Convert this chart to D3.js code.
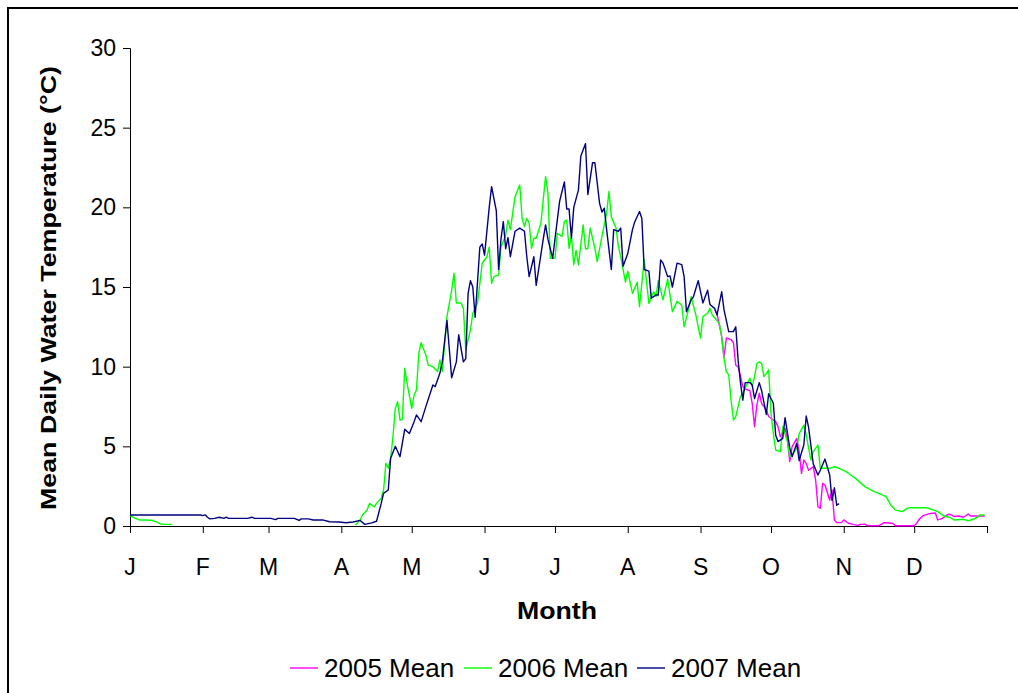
<!DOCTYPE html>
<html>
<head>
<meta charset="utf-8">
<script src="https://cdn.jsdelivr.net/npm/d3@7"></script>
<style>
  html, body { margin: 0; padding: 0; background: #fff; }
  svg { display: block; font-family: Arial, "Liberation Sans", sans-serif; }
</style>
</head>
<body>
<svg id="chart" width="1018" height="693"></svg>
<script>
// ---- Data (day of year, mean daily water temperature °C) ----
const monthLabels = ["J","F","M","A","M","J","J","A","S","O","N","D"];
const monthStarts = [0,31,59,90,120,151,181,212,243,273,304,334,365];
const yTicks = [0,5,10,15,20,25,30];
const seriesNames = ["2005 Mean","2006 Mean","2007 Mean"];
const seriesColors = ["#FF00FF","#00FF00","#000080"];

const days2005 = [249,250,252,253,254,256,257,258,259,260,
  261,262,264,265,266,267,268,269,271,272,
  274,275,276,277,279,280,281,282,284,285,
  286,287,288,289,291,292,293,294,295,296,
  298,299,300,301,303,304,306,308,310,311,
  313,314,319,321,322,325,326,334,335,336,
  338,341,343,344,346,348,349,351,353,355,
  357,358,361,364];
const temp2005 = [13.56,13.35,11.9,10.6,11.8,11.7,11.5,10.1,10.0,9.4,
  8.75,8.6,8.5,7.7,6.24,7.6,8.33,7.7,7.28,6.87,
  6.65,6.55,6.24,5.6,6.13,5.4,4.04,4.98,5.5,4.67,
  3.3,4.14,3.93,3.5,3.72,2.9,1.21,1.11,2.68,2.57,
  1.63,2.26,0.38,0.21,0.21,0.38,0.17,0.1,0.04,0.1,
  0.12,0.02,0.02,0.2,0.2,0.16,0.02,0.02,0.16,0.4,
  0.67,0.79,0.82,0.38,0.48,0.69,0.75,0.6,0.63,0.55,
  0.75,0.63,0.63,0.63];

const days2006 = [0,2,4,6,9,11,13,15,18,50,
  96,98,99,101,102,104,105,107,108,109,
  110,111,112,113,114,115,116,117,118,120,
  121,122,123,124,126,127,129,131,132,133,
  135,137,138,139,141,142,143,145,146,148,
  149,150,152,153,154,155,157,158,160,161,
  162,164,166,167,168,169,170,171,172,173,
  175,177,178,179,181,182,184,185,186,187,
  188,189,190,191,193,194,195,196,198,199,
  201,203,204,205,207,208,209,211,212,214,
  216,217,219,221,223,224,225,227,229,231,
  233,235,236,238,239,241,242,243,244,246,
  247,248,250,251,252,253,254,255,256,257,
  258,260,261,263,264,265,266,267,268,269,
  270,271,272,273,274,275,277,278,280,281,
  283,284,285,287,288,290,291,293,294,296,
  298,300,302,305,307,309,313,317,319,322,
  324,326,329,331,332,339,341,344,347,349,
  351,355,357,359,361,362,364];
const temp2006 = [0.65,0.5,0.38,0.38,0.36,0.27,0.13,0.1,0.1,null,
  0.06,0.38,0.69,1.0,1.42,1.2,1.42,1.74,2.26,3.93,
  3.62,4.25,5.6,7.39,7.8,6.65,6.7,9.9,8.96,7.39,
  8.22,8.54,10.84,11.5,10.73,10.1,10.0,9.69,10.42,9.7,
  13.14,14.8,15.86,14.0,14.0,13.66,11.05,12.3,13.35,14.0,
  15.23,16.49,16.9,17.5,15.23,15.65,15.75,17.5,18.27,19.2,
  18.6,20.67,21.4,19.3,18.8,19.3,19.0,17.43,18.06,18.06,
  19.0,21.93,20.9,16.8,16.8,18.37,18.17,19.1,19.2,17.43,
  18.17,16.4,17.3,16.4,18.9,17.4,17.4,18.7,17.43,16.6,
  18.17,19.63,21.0,19.4,18.7,17.55,16.9,15.3,16.0,14.6,
  15.3,13.76,16.7,13.97,14.7,14.4,15.4,14.2,15.5,13.45,
  14.1,13.87,12.5,13.66,14.4,13.24,12.5,11.8,13.14,13.35,
  13.66,13.24,12.9,12.7,11.88,10.5,9.68,9.48,7.9,6.65,
  6.86,8.12,8.33,8.96,9.27,8.75,9.37,10.2,10.3,10.2,
  9.37,9.58,9.8,7.07,5.8,4.77,4.67,6.24,5.3,4.35,
  4.67,4.88,5.8,6.33,5.71,4.14,4.67,5.08,3.62,3.62,
  3.62,3.72,3.62,3.41,3.2,2.99,2.47,2.16,2.05,1.84,
  1.32,1.0,0.9,1.11,1.15,1.15,1.07,0.9,0.6,0.55,
  0.38,0.42,0.33,0.42,0.55,0.69,0.69];

const days2007 = [0,30,31,32,33,34,36,38,40,41,
  42,50,52,53,60,62,63,70,72,73,
  76,78,82,85,89,92,95,98,100,103,
  105,107,108,110,111,113,115,116,117,119,
  121,122,124,126,129,130,132,133,135,137,
  139,140,142,143,144,145,146,147,149,150,
  151,153,154,156,157,158,159,160,161,162,
  164,166,168,169,170,172,173,176,177,178,
  180,181,183,185,186,187,188,189,191,192,
  194,195,197,198,200,201,202,203,205,206,
  208,209,210,212,214,215,217,218,219,221,
  222,224,225,226,227,229,230,231,233,235,
  236,237,239,240,242,244,246,247,249,250,
  252,253,255,257,258,259,260,261,262,264,
  265,266,268,269,271,272,274,275,276,278,
  279,281,282,284,285,287,288,289,291,293,
  294,296,298,299,300,301,302];
const temp2007 = [0.69,0.69,0.65,0.7,0.55,0.45,0.48,0.55,0.48,0.55,
  0.48,0.48,0.55,0.48,0.48,0.4,0.48,0.48,0.35,0.45,
  0.45,0.38,0.38,0.27,0.25,0.2,0.25,0.35,0.1,0.2,
  0.3,1.42,2.05,2.26,4.25,5.0,4.35,5.2,6.07,5.8,
  6.55,6.97,6.55,7.49,8.85,8.75,9.6,10.3,12.9,9.3,
  10.3,12.0,10.3,10.5,14.6,15.4,15.0,13.1,17.5,17.7,
  17.0,20.0,21.3,19.8,16.1,18.0,19.1,17.4,18.1,16.9,
  18.5,18.7,18.5,16.9,15.65,16.9,15.1,18.0,18.9,18.0,
  16.8,18.0,20.4,21.6,19.9,19.9,18.05,20.0,21.1,23.2,
  24.0,20.8,22.8,22.8,20.25,19.7,19.95,18.6,16.1,18.6,
  18.5,18.7,16.3,17.1,18.6,19.1,19.74,19.3,16.1,16.0,
  14.3,14.5,14.5,16.7,16.5,15.65,15.7,15.0,16.5,16.4,
  15.65,13.45,14.2,14.4,15.4,14.0,14.8,13.9,13.66,13.24,
  14.7,13.56,12.2,12.2,12.5,10.4,9.0,7.9,9.0,9.0,
  8.85,8.0,9.0,8.5,7.0,8.3,7.7,5.7,5.3,5.5,
  6.8,4.9,4.35,5.2,4.1,5.1,6.9,6.2,3.9,3.2,
  3.5,4.2,3.2,1.6,2.4,1.3,1.4];

// ---- Chart ----
const svg = d3.select("#chart");
const W = 1018, H = 693;
const plot = {left: 130, right: 987, top: 48, bottom: 526};
const FONT = "Arial, 'Liberation Sans', sans-serif";

svg.append("rect").attr("x", 0).attr("y", 0).attr("width", W).attr("height", H).attr("fill", "#fff");
// outer frame
svg.append("rect").attr("x", 8).attr("y", 8).attr("width", W + 20).attr("height", H + 20)
  .attr("fill", "none").attr("stroke", "#000").attr("stroke-width", 2);

const x = d3.scaleLinear().domain([0, 365]).range([plot.left, plot.right]);
const y = d3.scaleLinear().domain([0, 30]).range([plot.bottom, plot.top]);

// y axis
const yAxis = d3.axisLeft(y).tickValues(yTicks).tickSize(7).tickPadding(7).tickFormat(d3.format("d"));
const gy = svg.append("g").attr("transform", `translate(${plot.left},0)`).call(yAxis);
gy.select(".domain").attr("stroke", "#000").attr("stroke-width", 1);
gy.selectAll(".tick line").attr("stroke", "#000");
gy.selectAll(".tick text").attr("font-size", 23).attr("fill", "#000").attr("font-family", FONT);

// x axis
const xAxis = d3.axisBottom(x).tickValues(monthStarts).tickSize(7).tickFormat(() => "");
const gx = svg.append("g").attr("transform", `translate(0,${plot.bottom})`).call(xAxis);
gx.select(".domain").attr("stroke", "#000").attr("stroke-width", 1);
gx.selectAll(".tick line").attr("stroke", "#000");

svg.append("g").selectAll("text").data(monthLabels).join("text")
  .attr("x", (d, i) => x(monthStarts[i]))
  .attr("y", 575)
  .attr("text-anchor", "middle")
  .attr("font-size", 23)
  .text(d => d);

// axis titles
svg.append("text").attr("x", 557).attr("y", 619).attr("text-anchor", "middle")
  .attr("font-size", 23).attr("font-weight", "bold")
  .attr("textLength", 80).attr("lengthAdjust", "spacingAndGlyphs").text("Month");
svg.append("text").attr("transform", "translate(56,288) rotate(-90)").attr("text-anchor", "middle")
  .attr("font-size", 22).attr("font-weight", "bold")
  .attr("textLength", 444).attr("lengthAdjust", "spacingAndGlyphs")
  .text("Mean Daily Water Temperature (°C)");

// lines
const series = [
  {days: days2005, temps: temp2005},
  {days: days2006, temps: temp2006},
  {days: days2007, temps: temp2007}
];
const line = d3.line()
  .defined(d => d[1] != null)
  .x(d => x(d[0]))
  .y(d => y(d[1]));

series.forEach((s, i) => {
  const pts = s.days.map((dd, k) => [dd, s.temps[k]]);
  svg.append("path").datum(pts)
    .attr("fill", "none")
    .attr("stroke", seriesColors[i])
    .attr("stroke-width", 1.4)
    .attr("stroke-linejoin", "round")
    .attr("d", line);
});

// legend
const legendX = [290, 464, 637];
const lg = svg.append("g");
seriesNames.forEach((name, i) => {
  lg.append("line").attr("x1", legendX[i]).attr("x2", legendX[i] + 28)
    .attr("y1", 668).attr("y2", 668)
    .attr("stroke", seriesColors[i]).attr("stroke-width", 1.4);
  lg.append("text").attr("x", legendX[i] + 34).attr("y", 677)
    .attr("font-size", 26).text(name);
});
</script>
</body>
</html>
